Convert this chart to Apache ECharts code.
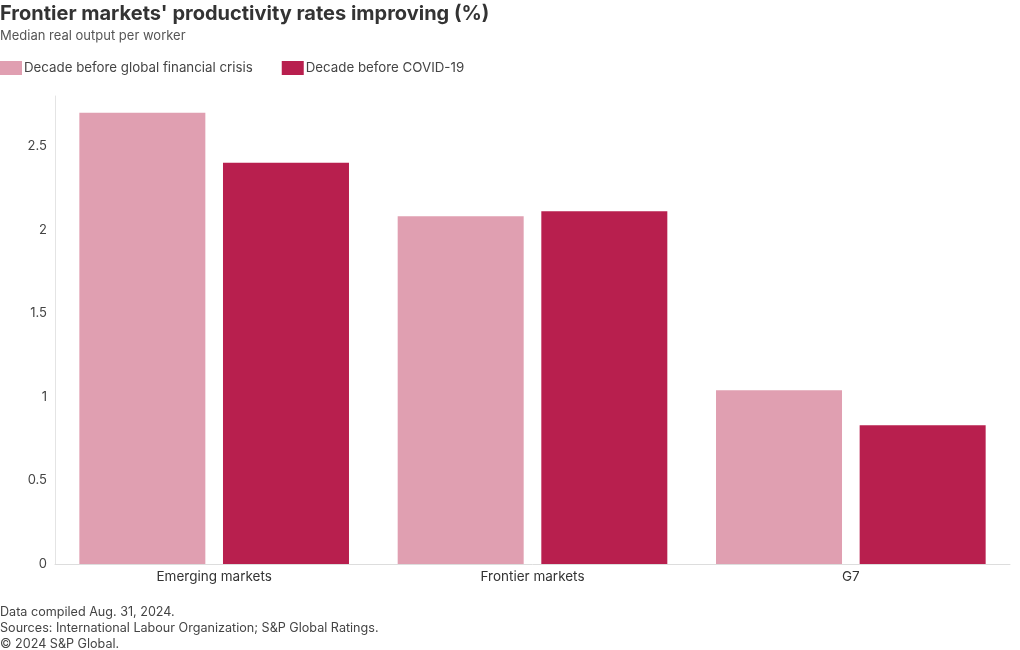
<!DOCTYPE html>
<html>
<head>
<meta charset="utf-8">
<script src="https://cdn.jsdelivr.net/npm/echarts@6/dist/echarts.min.js"></script>
<style>
html,body{margin:0;padding:0;background:#fff;}
#c{width:1020px;height:650px;}
</style>
</head>
<body>
<div id="c"></div>
<script>
const categories = ['Emerging markets', 'Frontier markets', 'G7'];
const seriesNames = ['Decade before global financial crisis', 'Decade before COVID-19'];
const preGFC = [2.70, 2.08, 1.04];
const preCOVID = [2.40, 2.11, 0.83];
const colors = ['#E09FB1', '#B81F4E'];
const font = 'Inter, "Noto Sans", sans-serif';

const chart = echarts.init(document.getElementById('c'));
chart.setOption({
  animation: false,
  textStyle: { fontFamily: font },
  title: [
    { text: "Frontier markets' productivity rates improving (%)", left: 0, top: 4, padding: 0,
      textStyle: { fontSize: 20, fontWeight: 'bold', color: '#333', fontFamily: font } },
    { text: 'Median real output per worker', left: 0, top: 30, padding: 0,
      textStyle: { fontSize: 13, fontWeight: 'normal', color: '#555', fontFamily: font } },
    { text: 'Data compiled Aug. 31, 2024.\nSources: International Labour Organization; S&P Global Ratings.\n© 2024 S&P Global.',
      left: 0, top: 604, padding: 0,
      textStyle: { fontSize: 12.6, fontWeight: 'normal', color: '#444', lineHeight: 16, fontFamily: font } }
  ],
  legend: {
    left: 0, top: 61, padding: 0, itemWidth: 22, itemHeight: 14, itemGap: 29,
    icon: 'rect',
    textStyle: { fontSize: 13.3, color: '#444', padding: [0, 0, 0, -3] },
    data: seriesNames
  },
  grid: { left: 55, right: 10, top: 96, bottom: 86, containLabel: false },
  xAxis: {
    type: 'category', data: categories,
    axisLine: { lineStyle: { color: '#ddd' } },
    axisTick: { show: false },
    axisLabel: { fontSize: 13.5, color: '#333', margin: 6 }
  },
  yAxis: {
    type: 'value', min: 0, max: 2.8, interval: 0.5,
    axisLine: { show: true, lineStyle: { color: '#e4e4e4' } },
    axisTick: { show: false },
    splitLine: { show: false },
    axisLabel: { fontSize: 13, color: '#444', margin: 8, showMaxLabel: false }
  },
  series: [
    { name: seriesNames[0], type: 'bar', data: preGFC, itemStyle: { color: colors[0] },
      barWidth: 126, barGap: '14%' },
    { name: seriesNames[1], type: 'bar', data: preCOVID, itemStyle: { color: colors[1] },
      barWidth: 126, barGap: '14%' }
  ]
});
</script>
</body>
</html>
